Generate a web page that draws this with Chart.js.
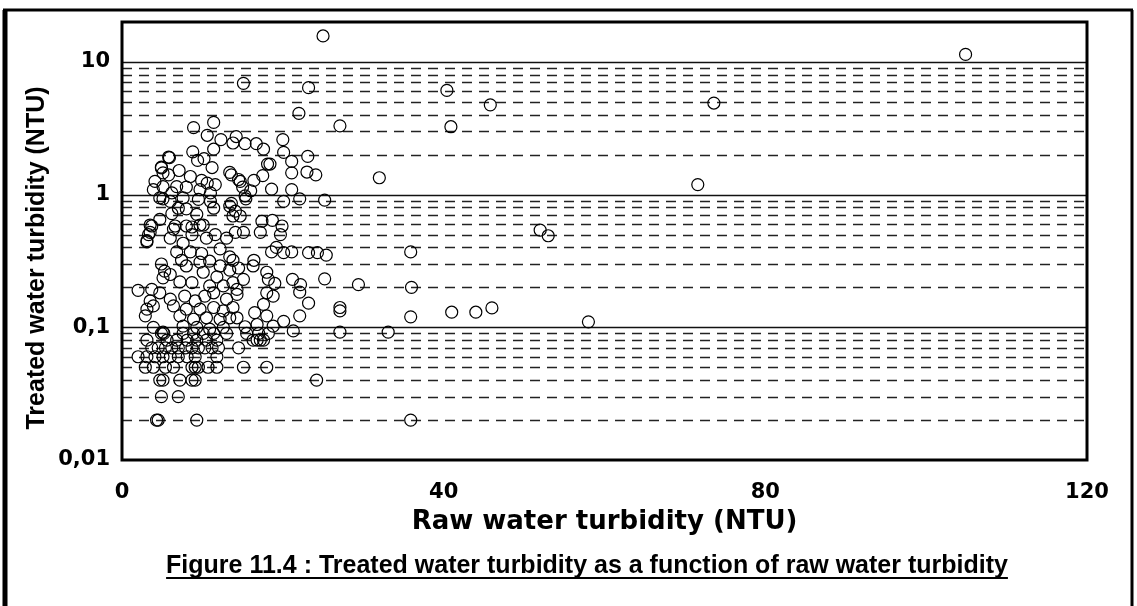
<!DOCTYPE html>
<html>
<head>
<meta charset="utf-8">
<script src="https://cdn.jsdelivr.net/npm/chart.js@4.4.0/dist/chart.umd.min.js"></script>
<style>
  html, body { margin: 0; padding: 0; background: #fff; }
  canvas { display: block; }
</style>
</head>
<body>
<canvas id="turbidity-chart" width="1137" height="606"></canvas>
<script>
// raw water turbidity (NTU) vs treated water turbidity (NTU)
const xTicks = [0, 40, 80, 120];
const yDecades = [0.01, 0.1, 1, 10];
const yMax = 20;
const xTitle = 'Raw water turbidity (NTU)';
const yTitle = 'Treated water turbidity (NTU)';
const caption = 'Figure 11.4 : Treated water turbidity as a function of raw water turbidity';

// scattered high-raw / high-treated readings
const isolatedSamples = [
  [25.0, 15.7], [104.9, 11.4], [15.1, 6.9], [23.2, 6.4], [40.4, 6.1], [45.8, 4.75],
  [73.6, 4.9], [22.0, 4.1], [27.1, 3.3], [40.9, 3.25], [32.0, 1.34], [71.6, 1.19],
  [52.0, 0.54], [53.0, 0.49], [35.9, 0.37], [36.0, 0.2], [29.4, 0.21], [35.9, 0.12],
  [41.0, 0.13], [44.0, 0.13], [46.0, 0.14], [58.0, 0.11], [33.1, 0.092], [35.9, 0.02],
  [24.2, 0.04]
];

// treated turbidity above 0.5 NTU
const upperSamples = [
  [8.9, 3.2], [11.4, 3.5], [10.6, 2.8], [12.3, 2.6], [13.8, 2.45], [14.2, 2.74],
  [8.8, 2.1], [9.4, 1.81], [10.2, 1.87], [11.4, 2.2], [11.2, 1.6], [5.9, 1.9],
  [4.9, 1.61], [5.1, 1.46], [5.8, 1.41], [7.1, 1.52], [8.5, 1.37], [4.1, 1.26],
  [3.9, 1.09], [5.1, 1.15], [6.2, 1.03], [6.8, 1.15], [8.0, 1.14], [9.9, 1.28],
  [9.7, 1.09], [10.6, 1.22], [11.6, 1.19], [11.0, 1.03], [4.7, 0.945], [5.1, 0.93],
  [6.0, 0.89], [7.6, 0.945], [9.5, 0.92], [11.0, 0.89], [13.4, 1.47], [14.5, 1.3],
  [7.0, 0.79], [8.0, 0.78], [6.2, 0.72], [4.7, 0.65], [3.5, 0.59], [11.4, 0.79],
  [9.3, 0.71], [13.4, 0.82], [13.8, 0.69], [6.6, 0.58], [8.7, 0.57], [10.1, 0.59],
  [15.3, 2.42], [16.7, 2.42], [17.6, 2.2], [20.0, 2.6], [20.1, 2.08], [23.1, 1.94],
  [21.1, 1.78], [18.1, 1.7], [18.4, 1.7], [21.1, 1.46], [23.0, 1.48], [24.1, 1.41],
  [13.6, 1.41], [14.7, 1.26], [16.4, 1.28], [17.5, 1.39], [15.0, 1.14], [16.0, 1.07],
  [18.6, 1.1], [21.1, 1.09], [15.3, 0.98], [15.4, 0.93], [20.1, 0.89], [22.1, 0.93],
  [25.2, 0.91], [13.6, 0.86], [14.1, 0.75], [14.7, 0.69], [17.4, 0.63], [18.7, 0.64],
  [19.9, 0.58], [5.8, 1.92], [4.9, 1.59], [3.7, 0.58]
];

// treated turbidity between 0.09 and 0.5 NTU
const middleSamples = [
  [3.5, 0.52], [3.1, 0.44], [6.4, 0.55], [6.0, 0.47], [8.0, 0.58], [9.7, 0.59],
  [8.7, 0.5], [7.6, 0.43], [10.5, 0.47], [11.6, 0.5], [13.0, 0.47], [14.1, 0.52],
  [6.8, 0.37], [8.5, 0.37], [9.9, 0.36], [12.2, 0.39], [13.4, 0.34], [4.9, 0.3],
  [5.3, 0.265], [6.0, 0.25], [5.1, 0.236], [7.4, 0.32], [8.0, 0.29], [9.7, 0.31],
  [10.9, 0.315], [12.2, 0.29], [13.4, 0.27], [10.1, 0.26], [11.8, 0.24], [7.2, 0.22],
  [8.7, 0.217], [10.9, 0.205], [12.6, 0.205], [13.8, 0.217], [3.7, 0.193], [4.7, 0.182],
  [6.0, 0.163], [3.5, 0.158], [3.9, 0.145], [3.1, 0.137], [2.9, 0.122], [6.4, 0.145],
  [7.8, 0.172], [9.1, 0.158], [10.3, 0.172], [11.4, 0.182], [13.0, 0.163], [14.3, 0.177],
  [8.0, 0.137], [9.7, 0.137], [11.4, 0.141], [12.6, 0.133], [13.8, 0.141], [7.2, 0.122],
  [8.9, 0.115], [10.5, 0.118], [12.2, 0.115], [13.4, 0.118], [7.6, 0.102], [9.3, 0.1],
  [10.9, 0.097], [12.6, 0.1], [3.9, 0.1], [5.1, 0.092], [3.1, 0.45], [3.3, 0.5],
  [2.0, 0.19],
  [15.1, 0.52], [17.2, 0.52], [19.7, 0.5], [19.2, 0.4], [18.6, 0.37], [20.1, 0.365],
  [21.1, 0.37], [23.2, 0.365], [24.3, 0.365], [25.4, 0.35], [16.4, 0.32], [13.8, 0.32],
  [14.5, 0.28], [16.3, 0.29], [18.0, 0.26], [18.2, 0.23], [19.0, 0.214], [21.2, 0.23],
  [22.2, 0.21], [25.2, 0.232], [15.1, 0.23], [14.3, 0.193], [18.0, 0.182], [18.8, 0.172],
  [22.1, 0.184], [23.2, 0.152], [17.6, 0.149], [16.5, 0.129], [18.0, 0.122], [20.1, 0.111],
  [22.1, 0.122], [27.1, 0.141], [27.1, 0.133], [15.3, 0.101], [16.8, 0.105], [18.8, 0.102],
  [21.3, 0.094], [27.1, 0.092], [14.3, 0.118]
];

// low readings, logged in steps of 0.01 NTU
const lowReadings = {
  0.09: [4.9, 5.2, 7.6, 8.9, 10.1, 11.4, 13.0, 15.5, 17.0, 18.2],
  0.08: [3.1, 5.6, 6.8, 8.1, 9.3, 10.5, 11.8, 16.3, 16.8, 17.2, 17.6],
  0.07: [3.7, 4.5, 5.4, 6.2, 7.0, 7.9, 8.7, 9.5, 10.3, 11.2, 12.0, 14.5],
  0.06: [2.0, 3.1, 4.1, 5.1, 6.0, 7.0, 8.1, 9.1, 11.8],
  0.05: [2.9, 3.9, 5.4, 6.4, 8.7, 9.1, 9.5, 10.7, 11.8, 15.1, 18.0],
  0.04: [4.7, 5.1, 7.2, 8.7, 9.1],
  0.03: [4.9, 7.0],
  0.02: [4.3, 4.5, 9.3]
};

const lowSamples = [];
for (const [treated, raws] of Object.entries(lowReadings)) {
  for (const raw of raws) lowSamples.push([raw, Number(treated)]);
}

const points = [...isolatedSamples, ...upperSamples, ...middleSamples, ...lowSamples]
  .map(([x, y]) => ({ x, y }));

const SANS = '"Liberation Sans", Arial, Helvetica, sans-serif';
const WIDE = '"DejaVu Sans", Verdana, sans-serif';
Chart.defaults.color = '#000';
Chart.defaults.font.family = SANS;

// horizontal grid: solid at decades, dashed in between; frames, y title and caption
const decorations = {
  id: 'decorations',
  beforeDatasetsDraw(chart) {
    const { ctx, chartArea: a, scales: { y } } = chart;
    ctx.save();
    for (const t of y.ticks) {
      if (t.value <= y.min || t.value >= yMax) continue;
      const py = Math.round(y.getPixelForValue(t.value)) + 0.5;
      const decade = yDecades.includes(t.value);
      ctx.setLineDash(decade ? [] : [10, 7]);
      ctx.lineWidth = decade ? 1.5 : 1.4;
      ctx.strokeStyle = decade ? '#111' : '#222';
      ctx.beginPath();
      ctx.moveTo(a.left, py);
      ctx.lineTo(a.right, py);
      ctx.stroke();
    }
    ctx.restore();
  },
  afterDraw(chart) {
    const { ctx, chartArea: a, height } = chart;
    ctx.save();
    ctx.strokeStyle = '#000';
    ctx.fillStyle = '#000';
    ctx.lineWidth = 3;
    ctx.strokeRect(a.left, a.top, a.right - a.left, a.bottom - a.top);

    // outer figure frame (open at the bottom)
    ctx.lineWidth = 5;
    ctx.beginPath();
    ctx.moveTo(5, height);
    ctx.lineTo(5, 10);
    ctx.stroke();
    ctx.lineWidth = 3;
    ctx.beginPath();
    ctx.moveTo(3, 10);
    ctx.lineTo(1133, 10);
    ctx.moveTo(1132, 10);
    ctx.lineTo(1132, height);
    ctx.stroke();

    // y axis title
    ctx.save();
    ctx.translate(37, 258);
    ctx.rotate(-Math.PI / 2);
    ctx.font = `bold 25px ${SANS}`;
    ctx.textAlign = 'center';
    ctx.textBaseline = 'middle';
    ctx.fillText(yTitle, 0, 0);
    ctx.restore();

    // underlined caption
    ctx.font = `bold 25px ${SANS}`;
    ctx.textAlign = 'center';
    ctx.textBaseline = 'alphabetic';
    const cx = 587, cy = 573;
    ctx.fillText(caption, cx, cy);
    const w = ctx.measureText(caption).width;
    ctx.lineWidth = 2;
    ctx.beginPath();
    ctx.moveTo(cx - w / 2, cy + 5);
    ctx.lineTo(cx + w / 2, cy + 5);
    ctx.stroke();
    ctx.restore();
  }
};

new Chart(document.getElementById('turbidity-chart'), {
  type: 'scatter',
  data: {
    datasets: [{
      label: 'Treated water turbidity',
      data: points,
      pointStyle: 'circle',
      pointRadius: 6,
      pointBorderWidth: 1.2,
      pointBorderColor: '#000',
      pointBackgroundColor: 'rgba(255,255,255,0)'
    }]
  },
  options: {
    responsive: false,
    animation: false,
    devicePixelRatio: 1,
    layout: { padding: { left: 10, top: 22, right: 50, bottom: 20 } },
    scales: {
      x: {
        type: 'linear',
        min: 0,
        max: 120,
        afterBuildTicks: (scale) => { scale.ticks = xTicks.map(v => ({ value: v })); },
        afterFit: (scale) => { scale.height = 126; },
        ticks: { font: { family: WIDE, size: 21, weight: 'bold' }, padding: 12, autoSkip: false, maxRotation: 0 },
        grid: { display: false },
        border: { display: false },
        title: {
          display: true,
          text: xTitle,
          font: { family: WIDE, size: 26, weight: 'bold' },
          padding: { top: 0, bottom: 48 }
        }
      },
      y: {
        type: 'logarithmic',
        min: 0.01,
        max: yMax,
        afterBuildTicks: (scale) => {
          const ticks = [];
          for (const d of [0.01, 0.1, 1]) {
            for (let k = 1; k <= 9; k++) ticks.push({ value: Number((d * k).toPrecision(2)) });
          }
          ticks.push({ value: 10 }, { value: yMax });
          scale.ticks = ticks;
        },
        afterFit: (scale) => { scale.width = 112; },
        ticks: {
          font: { family: WIDE, size: 21, weight: 'bold' },
          padding: 4,
          autoSkip: false,
          callback: (v) => yDecades.includes(v) ? String(v).replace('.', ',') : ''
        },
        grid: { display: false },
        border: { display: false },
        title: { display: false }
      }
    },
    plugins: {
      legend: { display: false },
      tooltip: { enabled: false },
      title: { display: false }
    }
  },
  plugins: [decorations]
});
</script>
</body>
</html>
